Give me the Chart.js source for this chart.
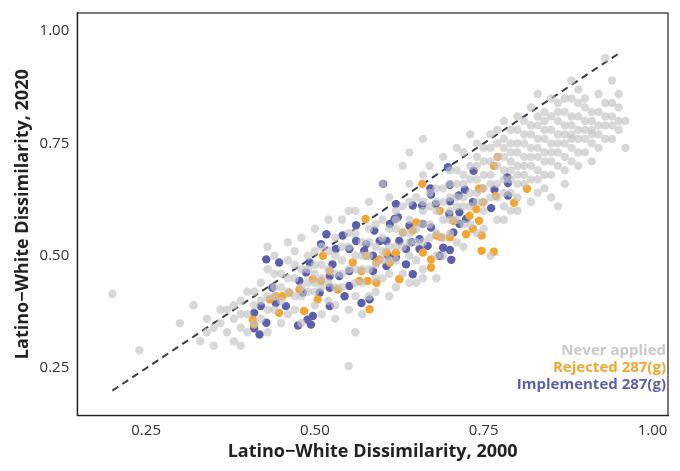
<!DOCTYPE html>
<html>
<head>
<meta charset="utf-8">
<script src="https://cdn.jsdelivr.net/npm/chart.js@4"></script>
<style>
  html, body { margin: 0; padding: 0; background: #fff; }
  #wrap { width: 680px; height: 471px; }
</style>
</head>
<body>
<div id="wrap"><canvas id="c"></canvas></div>
<script>
// Datos: [disimilitud 2000, disimilitud 2020]
var neverApplied = [
  [0.20,0.415],[0.24,0.29],[0.55,0.255],[0.30,0.35],[0.32,0.39],[0.66,0.76],[0.64,0.73],
  [0.33,0.31],[0.34,0.33],[0.35,0.30],[0.36,0.35],[0.37,0.33],[0.37,0.38],[0.38,0.36],[0.38,0.31],[0.39,0.40],[0.39,0.34],[0.40,0.37],[0.40,0.42],[0.40,0.33],
  [0.41,0.39],[0.42,0.44],[0.42,0.36],[0.43,0.41],[0.43,0.47],[0.44,0.38],[0.44,0.43],[0.45,0.40],[0.45,0.46],[0.45,0.35],[0.46,0.42],[0.46,0.49],[0.47,0.38],[0.47,0.45],[0.48,0.41],[0.48,0.47],[0.48,0.35],[0.49,0.44],[0.49,0.50],[0.50,0.39],[0.50,0.46],[0.50,0.42],[0.43,0.52],[0.46,0.53],
  [0.51,0.48],[0.51,0.43],[0.52,0.51],[0.52,0.40],[0.53,0.46],[0.53,0.54],[0.54,0.43],[0.54,0.49],[0.55,0.52],[0.55,0.38],[0.56,0.47],[0.56,0.55],[0.57,0.44],[0.57,0.50],[0.58,0.53],[0.58,0.41],[0.59,0.48],[0.59,0.57],[0.60,0.45],[0.60,0.51],[0.60,0.54],[0.52,0.58],[0.55,0.60],[0.57,0.37],[0.53,0.36],[0.58,0.62],[0.56,0.33],
  [0.61,0.49],[0.61,0.56],[0.62,0.52],[0.62,0.60],[0.63,0.46],[0.63,0.55],[0.64,0.58],[0.64,0.50],[0.65,0.63],[0.65,0.53],[0.66,0.47],[0.66,0.57],[0.67,0.61],[0.67,0.54],[0.68,0.65],[0.68,0.50],[0.69,0.58],[0.69,0.62],[0.70,0.55],[0.70,0.66],[0.70,0.60],[0.62,0.43],[0.65,0.44],[0.68,0.45],[0.66,0.68],[0.63,0.70],[0.60,0.66],[0.69,0.72],
  [0.71,0.63],[0.71,0.58],[0.71,0.69],[0.72,0.66],[0.72,0.61],[0.72,0.73],[0.73,0.64],[0.73,0.70],[0.73,0.57],[0.74,0.67],[0.74,0.62],[0.74,0.75],[0.75,0.65],[0.75,0.71],[0.75,0.60],[0.76,0.68],[0.76,0.74],[0.76,0.63],[0.77,0.70],[0.77,0.66],[0.77,0.78],[0.78,0.72],[0.78,0.64],[0.78,0.69],[0.79,0.75],[0.79,0.67],[0.79,0.71],[0.80,0.73],[0.80,0.68],[0.80,0.78],[0.80,0.63],[0.74,0.55],[0.77,0.58],[0.79,0.60],[0.72,0.52],[0.76,0.50],
  [0.81,0.70],[0.81,0.75],[0.81,0.80],[0.82,0.72],[0.82,0.67],[0.82,0.77],[0.83,0.74],[0.83,0.79],[0.83,0.69],[0.84,0.76],[0.84,0.71],[0.84,0.82],[0.85,0.73],[0.85,0.78],[0.85,0.68],[0.86,0.75],[0.86,0.80],[0.86,0.84],[0.87,0.77],[0.87,0.72],[0.87,0.82],[0.88,0.79],[0.88,0.74],[0.88,0.85],[0.89,0.76],[0.89,0.81],[0.89,0.70],[0.90,0.78],[0.90,0.83],[0.90,0.73],[0.83,0.64],[0.85,0.63],[0.87,0.66],[0.83,0.86],[0.88,0.89],[0.86,0.61],
  [0.91,0.80],[0.91,0.75],[0.92,0.82],[0.92,0.77],[0.92,0.86],[0.93,0.79],[0.93,0.84],[0.94,0.81],[0.94,0.76],[0.95,0.83],[0.95,0.78],[0.96,0.80],[0.93,0.94],[0.91,0.71],[0.94,0.89],[0.96,0.74],
  [0.76,0.71],[0.78,0.76],[0.80,0.70],[0.82,0.74],[0.84,0.78],[0.86,0.70],[0.88,0.76],[0.90,0.80],[0.79,0.64],[0.81,0.66],[0.83,0.72],[0.85,0.81],[0.87,0.75],[0.89,0.84],[0.91,0.78],[0.74,0.70],[0.72,0.68],[0.70,0.63],[0.68,0.60],[0.66,0.62],[0.64,0.55],[0.62,0.56],[0.60,0.49],[0.58,0.47],[0.56,0.44],[0.54,0.46],[0.52,0.44],[0.50,0.44],[0.48,0.43],
  [0.42,0.40],[0.44,0.41],[0.45,0.43],[0.46,0.45],[0.47,0.41],[0.47,0.48],[0.49,0.42],[0.49,0.47],[0.50,0.48],[0.50,0.51],[0.51,0.45],[0.51,0.52],[0.52,0.47],[0.53,0.50],[0.53,0.43],[0.54,0.52],[0.55,0.47],[0.55,0.55],[0.56,0.50],[0.56,0.41],[0.57,0.53],[0.57,0.47],[0.58,0.50],[0.58,0.56],[0.59,0.45],[0.59,0.52],[0.60,0.58],[0.61,0.52],[0.61,0.46],
  [0.62,0.49],[0.62,0.58],[0.63,0.52],[0.63,0.61],[0.64,0.53],[0.64,0.62],[0.65,0.56],[0.65,0.49],[0.66,0.60],[0.66,0.53],[0.67,0.57],[0.67,0.64],[0.68,0.55],[0.68,0.62],[0.69,0.54],[0.69,0.65],[0.70,0.58],[0.70,0.69],[0.71,0.61],[0.71,0.66],[0.72,0.63],[0.72,0.57],[0.73,0.67],[0.73,0.61],[0.74,0.64],[0.74,0.72],[0.75,0.68],[0.75,0.62],[0.75,0.74],
  [0.76,0.66],[0.76,0.77],[0.77,0.72],[0.77,0.63],[0.77,0.75],[0.78,0.67],[0.78,0.74],[0.78,0.80],[0.79,0.69],[0.79,0.73],[0.79,0.78],[0.80,0.66],[0.80,0.75],[0.80,0.81],[0.81,0.72],[0.81,0.68],[0.81,0.77],[0.82,0.70],[0.82,0.79],[0.82,0.83],[0.83,0.76],[0.83,0.67],[0.83,0.81],[0.84,0.73],[0.84,0.68],[0.84,0.80],[0.85,0.75],[0.85,0.71],[0.85,0.85],
  [0.86,0.77],[0.86,0.73],[0.86,0.82],[0.87,0.79],[0.87,0.69],[0.87,0.85],[0.88,0.81],[0.88,0.71],[0.88,0.77],[0.89,0.78],[0.89,0.73],[0.89,0.87],[0.90,0.76],[0.90,0.85],[0.91,0.82],[0.91,0.77],[0.92,0.79],[0.92,0.74],[0.93,0.81],[0.93,0.76],[0.94,0.84],[0.94,0.79],[0.95,0.80],[0.95,0.86],[0.82,0.62],[0.80,0.60],[0.78,0.61],[0.84,0.65],
  [0.36,0.38],[0.38,0.39],[0.39,0.37],[0.41,0.42],[0.41,0.35],[0.43,0.38],[0.44,0.46],[0.44,0.50],[0.47,0.51],[0.48,0.54],[0.50,0.56],[0.54,0.58],[0.56,0.60],[0.61,0.63],[0.64,0.66],[0.67,0.70],[0.71,0.74],[0.73,0.77],[0.59,0.42],[0.61,0.41],[0.64,0.44],[0.66,0.45],[0.69,0.50],[0.71,0.53],[0.75,0.56],[0.78,0.58],[0.53,0.39],[0.51,0.37],[0.46,0.37],[0.43,0.33],[0.39,0.30],[0.34,0.36],[0.35,0.34]
];

var rejected = [
  [0.771,0.720],[0.765,0.700],[0.659,0.660],[0.743,0.649],[0.748,0.650],[0.814,0.649],[0.768,0.633],[0.795,0.618],[0.749,0.619],[0.685,0.600],
  [0.739,0.604],[0.729,0.589],[0.743,0.578],[0.705,0.578],[0.650,0.574],[0.575,0.582],[0.630,0.552],[0.645,0.556],[0.680,0.545],[0.687,0.541],
  [0.700,0.541],[0.734,0.560],[0.747,0.545],[0.724,0.548],[0.747,0.511],[0.765,0.509],[0.660,0.507],[0.672,0.492],[0.606,0.507],[0.591,0.485],
  [0.596,0.492],[0.576,0.500],[0.569,0.466],[0.512,0.500],[0.522,0.466],[0.497,0.448],[0.509,0.444],[0.566,0.444],[0.578,0.444],[0.591,0.440],
  [0.625,0.448],[0.534,0.425],[0.504,0.403],[0.477,0.425],[0.462,0.418],[0.452,0.410],[0.433,0.403],[0.442,0.410],[0.484,0.377],[0.447,0.373],
  [0.408,0.358],[0.410,0.347],[0.581,0.381],[0.556,0.485],[0.620,0.507],[0.611,0.485],[0.672,0.474]
];

var implemented = [
  [0.697,0.697],[0.735,0.689],[0.785,0.675],[0.786,0.662],[0.601,0.660],[0.700,0.658],[0.671,0.650],[0.672,0.636],[0.713,0.634],[0.722,0.647],
  [0.766,0.647],[0.786,0.634],[0.620,0.615],[0.645,0.612],[0.659,0.612],[0.679,0.615],[0.700,0.621],[0.734,0.619],[0.761,0.606],[0.714,0.597],
  [0.699,0.593],[0.724,0.582],[0.623,0.586],[0.611,0.571],[0.618,0.582],[0.640,0.567],[0.660,0.571],[0.672,0.563],[0.714,0.571],[0.705,0.552],
  [0.561,0.568],[0.588,0.556],[0.517,0.548],[0.509,0.526],[0.541,0.545],[0.561,0.533],[0.576,0.526],[0.596,0.533],[0.606,0.533],[0.625,0.533],
  [0.643,0.530],[0.655,0.537],[0.667,0.522],[0.690,0.518],[0.700,0.513],[0.685,0.500],[0.702,0.491],[0.531,0.515],[0.551,0.515],[0.573,0.511],
  [0.586,0.500],[0.608,0.500],[0.620,0.496],[0.635,0.481],[0.606,0.477],[0.492,0.485],[0.526,0.481],[0.551,0.466],[0.586,0.466],[0.487,0.463],
  [0.522,0.455],[0.536,0.455],[0.477,0.444],[0.522,0.429],[0.551,0.433],[0.482,0.418],[0.645,0.459],[0.507,0.418],[0.544,0.410],[0.442,0.407],
  [0.437,0.429],[0.420,0.388],[0.410,0.373],[0.428,0.351],[0.442,0.395],[0.457,0.388],[0.522,0.388],[0.497,0.366],[0.489,0.358],[0.494,0.347],
  [0.475,0.345],[0.418,0.325],[0.569,0.395],[0.581,0.403],[0.428,0.492],[0.447,0.485],[0.655,0.515],[0.635,0.515],[0.410,0.339]
];

var refLine = [[0.2,0.2],[0.95,0.95]];
var tickValues = [0.25, 0.50, 0.75, 1.00];
var legendLabels = ['Never applied', 'Rejected 287(g)', 'Implemented 287(g)'];
var legendColors = ['#c9c9c9', '#f7a42f', '#5b5fae'];

function toPts(arr) {
    return arr.map(function(p) { return { x: p[0], y: p[1] }; });
}

// Marco y leyenda dibujados a mano
var framePlugin = {
    id: 'frame',
    afterDraw: function(chart) {
        var ctx = chart.ctx, a = chart.chartArea;
        ctx.save();
        ctx.strokeStyle = '#222';
        ctx.lineWidth = 1.2;
        ctx.strokeRect(a.left, a.top, a.right - a.left, a.bottom - a.top);
        ctx.font = 'bold 15px "Open Sans", sans-serif';
        ctx.textAlign = 'right';
        ctx.textBaseline = 'middle';
        for (var i = 0; i < legendLabels.length; i++) {
            ctx.fillStyle = legendColors[i];
            ctx.fillText(legendLabels[i], a.right - 2, 351 + i * 17);
        }
        ctx.restore();
    }
};

var pointOpts = { pointRadius: 4.2, pointHoverRadius: 4.2, borderWidth: 0 };

new Chart(document.getElementById('c'), {
    type: 'scatter',
    data: {
        datasets: [
            Object.assign({ label: legendLabels[0], data: toPts(neverApplied), backgroundColor: 'rgba(195,195,195,0.65)' }, pointOpts),
            Object.assign({ label: legendLabels[1], data: toPts(rejected), backgroundColor: '#f7a42f' }, pointOpts),
            Object.assign({ label: legendLabels[2], data: toPts(implemented), backgroundColor: '#5b5fae' }, pointOpts),
            { type: 'line', label: 'ref', data: toPts(refLine), borderColor: '#3a3a48', borderWidth: 2,
              borderDash: [7, 5], pointRadius: 0, fill: false }
        ]
    },
    options: {
        responsive: true,
        maintainAspectRatio: false,
        animation: false,
        layout: { padding: { top: 12, right: 12, left: 8, bottom: 4 } },
        plugins: { legend: { display: false }, tooltip: { enabled: false } },
        scales: {
            x: {
                type: 'linear', min: 0.148, max: 1.023,
                afterBuildTicks: function(s) { s.ticks = tickValues.map(function(v) { return { value: v }; }); },
                grid: { display: false, drawTicks: true, tickLength: 4, tickColor: '#333' },
                border: { color: '#222', width: 1.2 },
                ticks: { color: '#333', font: { size: 15, family: 'Open Sans' }, padding: 2,
                         callback: function(v) { return v.toFixed(2); } },
                title: { display: true, text: 'Latino\u2212White Dissimilarity, 2000', color: '#222',
                         font: { size: 18, weight: 'bold', family: 'Open Sans' }, padding: { top: 0 } }
            },
            y: {
                type: 'linear', min: 0.145, max: 1.04,
                afterBuildTicks: function(s) { s.ticks = tickValues.map(function(v) { return { value: v }; }); },
                grid: { display: false, drawTicks: true, tickLength: 4, tickColor: '#333' },
                border: { color: '#222', width: 1.2 },
                ticks: { color: '#333', font: { size: 15, family: 'Open Sans' }, padding: 4,
                         callback: function(v) { return v.toFixed(2); } },
                title: { display: true, text: 'Latino\u2212White Dissimilarity, 2020', color: '#222',
                         font: { size: 18, weight: 'bold', family: 'Open Sans' }, padding: { bottom: 2 } }
            }
        }
    },
    plugins: [framePlugin]
});
</script>
</body>
</html>
